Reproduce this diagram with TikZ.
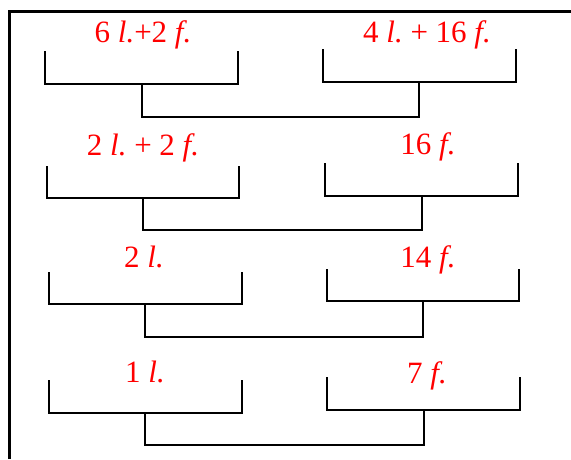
\documentclass[tikz,border=0pt]{standalone}
\usepackage{fontspec}
\setmainfont{Liberation Serif}
\newcommand{\itx}[1]{{\itshape #1}}
\frenchspacing
\begin{document}
\begin{tikzpicture}[x=1pt,y=-1pt,
  bracketline/.style={draw=black,line width=2pt,line join=miter},
  frameline/.style={draw=black,line width=3pt,line join=miter},
  lbl/.style={text=red,anchor=base,inner sep=0pt,font=\fontsize{31}{34}\selectfont}]
\useasboundingbox (0,0) rectangle (571,459);
\draw[frameline] (9.5,459) -- (9.5,11.5) -- (571,11.5);
% rows: Lx1, Lx2, Ltop, Lbot, Lstem, Rx1, Rx2, Rtop, Rbot, Rstem, joinY
\foreach \i/\la/\lb/\lt/\lbt/\ls/\ra/\rb/\rt/\rbt/\rs/\jy in {
  1/45/238/51/84/142/323/516/49/82/419/117,
  2/47/239/166/198/143/325/518/163/196/422/230,
  3/49/242/272/304/145/327/519/269/301/423/337,
  4/49/242/380/413/145/327/520/377/410/424/445}{
  \coordinate (la\i) at (\la,\lt);
  \coordinate (lb\i) at (\la,\lbt);
  \coordinate (lc\i) at (\lb,\lbt);
  \coordinate (ld\i) at (\lb,\lt);
  \coordinate (ls\i) at (\ls,\lbt);
  \coordinate (lj\i) at (\ls,\jy);
  \coordinate (ra\i) at (\ra,\rt);
  \coordinate (rb\i) at (\ra,\rbt);
  \coordinate (rc\i) at (\rb,\rbt);
  \coordinate (rd\i) at (\rb,\rt);
  \coordinate (rs\i) at (\rs,\rbt);
  \coordinate (rj\i) at (\rs,\jy);
  \draw[bracketline] (la\i) -- (lb\i) -- (lc\i) -- (ld\i);
  \draw[bracketline] (ra\i) -- (rb\i) -- (rc\i) -- (rd\i);
  \draw[bracketline] (ls\i) -- (lj\i) -- (rj\i) -- (rs\i);
}
\node[lbl] (t1l) at (143,42) {6 \itx{l.}+2 \itx{f.}};
\node[lbl] (t1r) at (427,42) {4 \itx{l.}\ + 16 \itx{f.}};
\node[lbl] (t2l) at (143,155) {2 \itx{l.}\ + 2 \itx{f.}};
\node[lbl] (t2r) at (428,154) {16 \itx{f.}};
\node[lbl] (t3l) at (144,267) {2 \itx{l.}};
\node[lbl] (t3r) at (428,267) {14 \itx{f.}};
\node[lbl] (t4l) at (145,382) {1 \itx{l.}};
\node[lbl] (t4r) at (427,383) {7 \itx{f.}};
\end{tikzpicture}
\end{document}
